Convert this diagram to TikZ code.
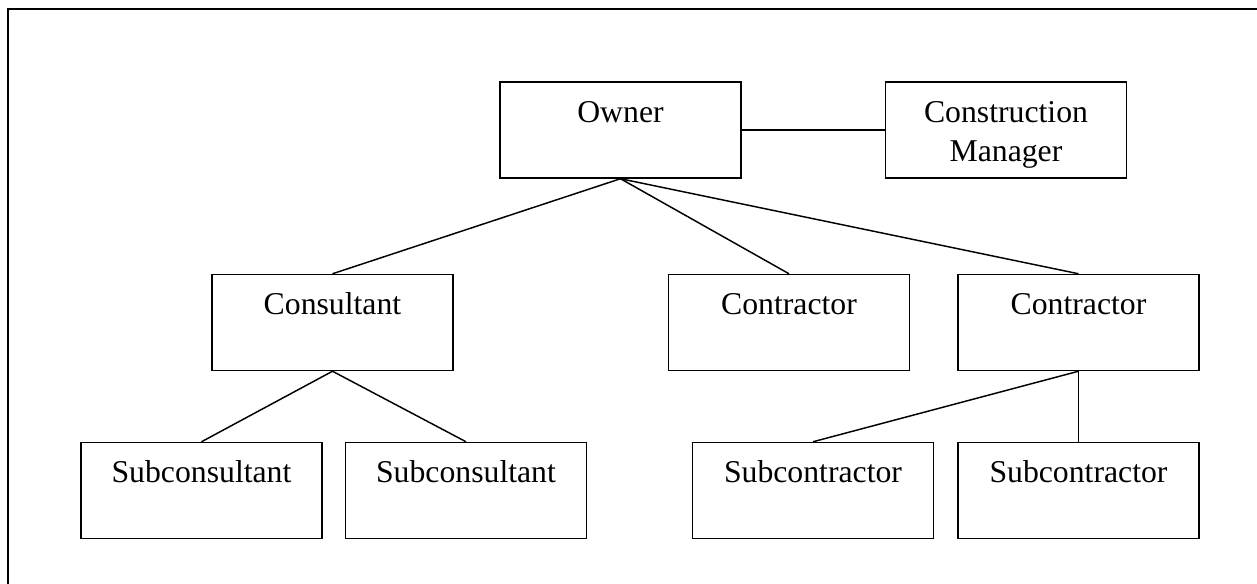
\documentclass[tikz,border=0pt]{standalone}
\usepackage{fontspec}
\setmainfont{Liberation Serif}
\usetikzlibrary{calc}
\begin{document}
\begin{tikzpicture}[x=0.75pt,y=-0.75pt,
  box/.style={draw, line width=1.1pt, rectangle, inner sep=0pt, minimum width=180.75pt, minimum height=72pt},
  lbl/.style={inner sep=0pt, font=\fontsize{23.8}{29}\selectfont, align=center},
  link/.style={line width=1.1pt},
  frame/.style={line width=1.7pt}]
\useasboundingbox (0,0) rectangle (1257,584);
\draw[frame] (8,584) -- (8,9) -- (1257,9);
% boxes
\node[box] (owner) at (620.5,130) {};
\node[box] (cm) at (1006,130) {};
\node[box] (cons) at (332.5,322.5) {};
\node[box] (con1) at (789,322.5) {};
\node[box] (con2) at (1078.5,322.5) {};
\node[box] (sub1) at (201.5,490.5) {};
\node[box] (sub2) at (466,490.5) {};
\node[box] (subc1) at (813,490.5) {};
\node[box] (subc2) at (1078.5,490.5) {};
% texts
\node[lbl, anchor=base] (ownerT) at ($(owner.north)+(0,41)$) {Owner};
\node[lbl, anchor=base] (cmT) at ($(cm.north)+(0,80)$) {Construction\\Manager};
\node[lbl, anchor=base] (consT) at ($(cons.north)+(0,41)$) {Consultant};
\node[lbl, anchor=base] (con1T) at ($(con1.north)+(0,41)$) {Contractor};
\node[lbl, anchor=base] (con2T) at ($(con2.north)+(0,41)$) {Contractor};
\node[lbl, anchor=base] (sub1T) at ($(sub1.north)+(0,41)$) {Subconsultant};
\node[lbl, anchor=base] (sub2T) at ($(sub2.north)+(0,41)$) {Subconsultant};
\node[lbl, anchor=base] (subc1T) at ($(subc1.north)+(0,41)$) {Subcontractor};
\node[lbl, anchor=base] (subc2T) at ($(subc2.north)+(0,41)$) {Subcontractor};
% connectors
\draw[link] (owner.east) -- (cm.west);
\draw[link] (owner.south) -- (cons.north);
\draw[link] (owner.south) -- (con1.north);
\draw[link] (owner.south) -- (con2.north);
\draw[link] (cons.south) -- (sub1.north);
\draw[link] (cons.south) -- (sub2.north);
\draw[link] (con2.south) -- (subc1.north);
\draw[link] (con2.south) -- (subc2.north);
\end{tikzpicture}
\end{document}
